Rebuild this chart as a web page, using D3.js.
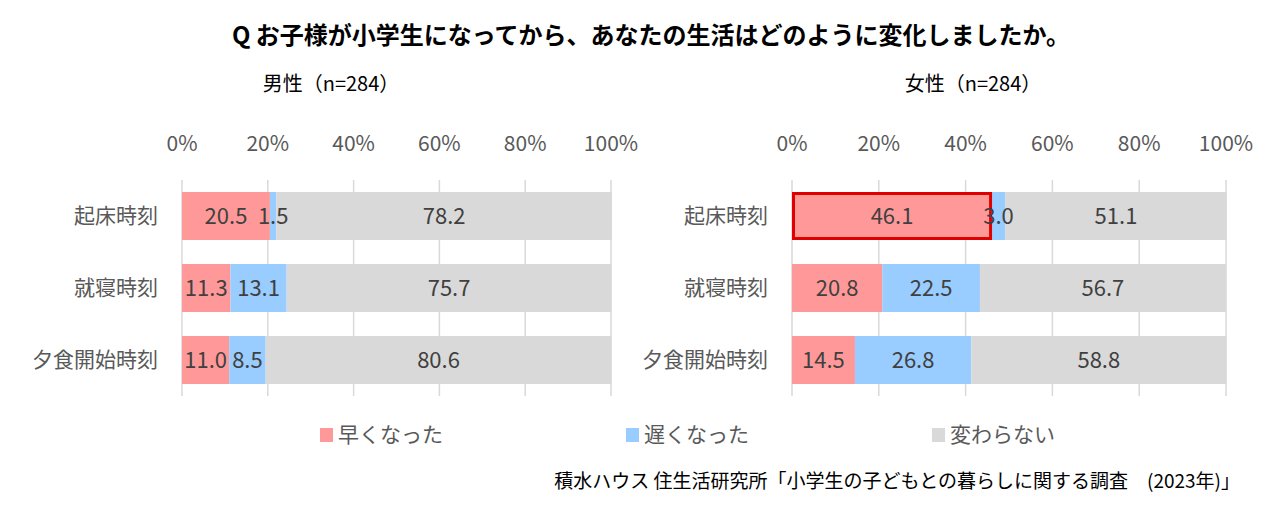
<!DOCTYPE html>
<html>
<head>
<meta charset="utf-8">
<script src="https://cdn.jsdelivr.net/npm/d3@7/dist/d3.min.js"></script>
<style>
  body { margin: 0; background: #fff; }
  text { font-family: "Noto Sans CJK JP", "Noto Sans", sans-serif; }
</style>
</head>
<body>
<div id="chart"></div>
<script>
// data
let categories = ["起床時刻", "就寝時刻", "夕食開始時刻"];
let series_names = ["早くなった", "遅くなった", "変わらない"];
let series_colors = ["#FF9999", "#99CCFF", "#D9D9D9"];
let male_earlier = [20.5, 11.3, 11.0];
let male_later = [1.5, 13.1, 8.5];
let male_same = [78.2, 75.7, 80.6];
let female_earlier = [46.1, 20.8, 14.5];
let female_later = [3.0, 22.5, 26.8];
let female_same = [51.1, 56.7, 58.8];
let tick_values = [0, 20, 40, 60, 80, 100];

let width = 1281;
let height = 513;

let svg = d3.select("#chart").append("svg")
    .attr("width", width)
    .attr("height", height);

svg.append("text")
    .attr("x", 651)
    .attr("y", 44)
    .attr("text-anchor", "middle")
    .style("font-size", "24px")
    .style("font-weight", "bold")
    .style("fill", "#000")
    .text("Q お子様が小学生になってから、あなたの生活はどのように変化しましたか。");

function draw_panel(title, title_x, x0, x1, label_x, rows, highlight) {
    let x = d3.scaleLinear().domain([0, 100]).range([x0, x1]);
    let y = d3.scaleBand().domain(categories).range([180, 396]).paddingInner(1/3).paddingOuter(1/6);

    svg.append("text")
        .attr("x", title_x)
        .attr("y", 91)
        .attr("text-anchor", "middle")
        .style("font-size", "20px")
        .style("fill", "#000")
        .text(title);

    let g = svg.append("g");

    // tick labels
    g.selectAll(".tick_label")
        .data(tick_values)
        .enter()
        .append("text")
        .attr("x", d => x(d))
        .attr("y", 151)
        .attr("text-anchor", "middle")
        .style("font-size", "21px")
        .style("fill", "#595959")
        .text(d => d + "%");

    // gridlines
    g.selectAll(".grid")
        .data(tick_values)
        .enter()
        .append("line")
        .attr("x1", d => x(d))
        .attr("x2", d => x(d))
        .attr("y1", 180)
        .attr("y2", 396)
        .style("stroke", "#D9D9D9")
        .style("stroke-width", 1.5);

    // stacked data
    let table = categories.map((c, i) => {
        let obj = {cat: c};
        series_names.forEach((s, j) => obj[s] = rows[j][i]);
        return obj;
    });
    let stacked = d3.stack().keys(series_names)(table);

    stacked.forEach((layer, j) => {
        g.selectAll(null)
            .data(layer)
            .enter()
            .append("rect")
            .attr("x", d => x(d[0]))
            .attr("y", d => y(d.data.cat))
            .attr("width", d => x(d[1]) - x(d[0]))
            .attr("height", y.bandwidth())
            .style("fill", series_colors[j]);
    });

    if (highlight) {
        let d = stacked[0][0];
        g.append("rect")
            .attr("x", x(d[0]) + 1.5)
            .attr("y", y(d.data.cat) + 1.5)
            .attr("width", x(d[1]) - x(d[0]) - 3)
            .attr("height", y.bandwidth() - 3)
            .style("fill", "none")
            .style("stroke", "#E00000")
            .style("stroke-width", 3);
    }

    stacked.forEach((layer, j) => {
        g.selectAll(null)
            .data(layer)
            .enter()
            .append("text")
            .attr("x", d => (x(d[0]) + x(d[1])) / 2)
            .attr("y", d => y(d.data.cat) + y.bandwidth() / 2 + 8)
            .attr("text-anchor", "middle")
            .style("font-size", "22px")
            .style("fill", "#404040")
            .text(d => (d[1] - d[0]).toFixed(1));
    });

    // category labels
    g.selectAll(".cat")
        .data(categories)
        .enter()
        .append("text")
        .attr("x", label_x)
        .attr("y", d => y(d) + y.bandwidth() / 2 + 7)
        .attr("text-anchor", "end")
        .style("font-size", "21px")
        .style("fill", "#595959")
        .text(d => d);
}

draw_panel("男性（n=284）", 331, 182, 611, 158, [male_earlier, male_later, male_same], false);
draw_panel("女性（n=284）", 973, 792, 1226, 768, [female_earlier, female_later, female_same], true);

// legend
let legend_x = [320, 626, 932];
let legend = svg.selectAll(".legend")
    .data(series_names)
    .enter()
    .append("g")
    .attr("transform", (d, i) => "translate(" + legend_x[i] + ",0)");
legend.append("rect")
    .attr("x", 0)
    .attr("y", 428)
    .attr("width", 13)
    .attr("height", 14)
    .style("fill", (d, i) => series_colors[i]);
legend.append("text")
    .attr("x", 18)
    .attr("y", 442)
    .style("font-size", "21px")
    .style("fill", "#595959")
    .text(d => d);

svg.append("text")
    .attr("x", 1240)
    .attr("y", 488)
    .attr("text-anchor", "end")
    .style("font-size", "19px")
    .style("fill", "#000")
    .text("積水ハウス 住生活研究所「小学生の子どもとの暮らしに関する調査　(2023年)」");
</script>
</body>
</html>
